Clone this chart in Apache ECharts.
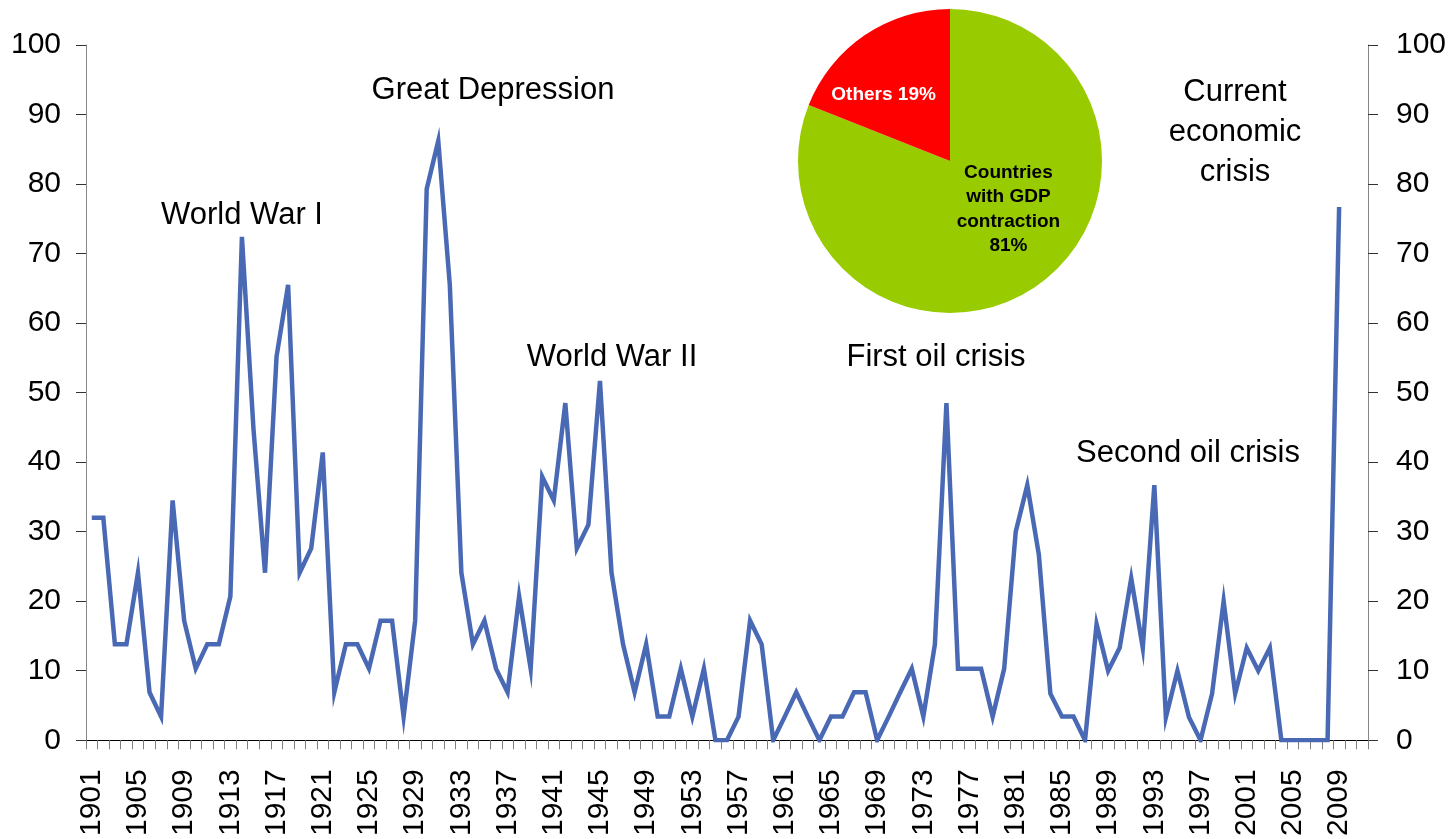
<!DOCTYPE html>
<html>
<head>
<meta charset="utf-8">
<script src="https://cdn.jsdelivr.net/npm/echarts@6/dist/echarts.min.js"></script>
<style>
html,body{margin:0;padding:0;background:#fff;}
#chart{width:1452px;height:839px;}
</style>
</head>
<body>
<div id="chart"></div>
<script>
// Years 1901-2011 on the category axis (2010, 2011 empty)
const years = [];
for (let y = 1901; y <= 2011; y++) years.push(String(y));

// Share of countries with GDP contraction (%), 1901-2009
const shareValues = [
  32.0, 32.0, 13.8, 13.8, 24.1, 6.9, 3.4, 34.5, 17.2, 10.3,      // 1901-1910
  13.8, 13.8, 20.7, 72.4, 44.8, 24.1, 55.2, 65.5, 24.1, 27.6,    // 1911-1920
  41.4, 6.9, 13.8, 13.8, 10.3, 17.2, 17.2, 3.4, 17.2, 79.3,      // 1921-1930
  86.2, 65.5, 24.1, 13.8, 17.2, 10.3, 6.9, 20.7, 10.3, 37.9,     // 1931-1940
  34.5, 48.5, 27.6, 31.0, 51.7, 24.1, 13.8, 6.9, 13.8, 3.4,      // 1941-1950
  3.4, 10.3, 3.4, 10.3, 0, 0, 3.4, 17.2, 13.8, 0,                // 1951-1960
  3.4, 6.9, 3.4, 0, 3.4, 3.4, 6.9, 6.9, 0, 3.4,                  // 1961-1970
  6.9, 10.3, 3.4, 13.8, 48.5, 10.3, 10.3, 10.3, 3.4, 10.3,       // 1971-1980
  30.0, 36.7, 26.7, 6.7, 3.4, 3.4, 0, 16.7, 10.0, 13.3,          // 1981-1990
  23.3, 13.3, 36.7, 3.3, 10.0, 3.3, 0, 6.7, 20.0, 6.7,           // 1991-2000
  13.3, 10.0, 13.3, 0, 0, 0, 0, 0, 76.7                          // 2001-2009
];

// Pie: share of countries in the current crisis
const pieNames = ['Countries\nwith GDP\ncontraction', 'Others'];
const pieValues = [81, 19];
const pieColors = ['#99CC00', '#FF0000'];

// Annotations
const annoTexts = ['World War I', 'Great Depression', 'World War II', 'First oil crisis', 'Second oil crisis', 'Current\neconomic\ncrisis'];
const annoPos = [[242, 215], [493, 90], [612, 357], [936, 357], [1188, 453], [1235, 132]];

const FONT = '"Liberation Sans", Arial, sans-serif';

const chart = echarts.init(document.getElementById('chart'), null, {renderer: 'canvas'});

const yAxisCommon = {
  type: 'value', min: 0, max: 100, interval: 10,
  splitLine: {show: false},
  axisLine: {show: true, lineStyle: {color: '#868686', width: 1}},
  axisTick: {show: true, length: 10, lineStyle: {color: '#333', width: 1}},
  axisLabel: {color: '#000', fontSize: 30, fontFamily: FONT}
};

chart.setOption({
  animation: false,
  backgroundColor: '#fff',
  grid: {left: 86, right: 84, top: 45, bottom: 98, containLabel: false},
  xAxis: {
    type: 'category',
    data: years,
    boundaryGap: true,
    axisLine: {show: true, lineStyle: {color: '#000', width: 1}},
    axisTick: {show: true, interval: 0, length: 9, lineStyle: {color: '#808080', width: 1}},
    axisLabel: {
      interval: 3, rotate: 90, margin: 29,
      color: '#000', fontSize: 30, fontFamily: FONT
    },
    splitLine: {show: false}
  },
  yAxis: [
    Object.assign({}, yAxisCommon, {position: 'left', axisLabel: Object.assign({}, yAxisCommon.axisLabel, {margin: 25})}),
    Object.assign({}, yAxisCommon, {position: 'right', axisLabel: Object.assign({}, yAxisCommon.axisLabel, {margin: 28})})
  ],
  series: [
    {
      type: 'line',
      data: shareValues,
      xAxisIndex: 0, yAxisIndex: 0,
      showSymbol: false,
      symbol: 'none',
      lineStyle: {color: '#4A69B5', width: 4.5, join: 'miter'},
      z: 3
    },
    {
      type: 'pie',
      center: [950, 161],
      radius: 152,
      startAngle: 90,
      clockwise: true,
      silent: true,
      data: pieNames.map((n, i) => ({
        name: n, value: pieValues[i],
        itemStyle: {color: pieColors[i]},
        label: i === 0
          ? {color: '#000', formatter: '{b}\n{c}%'}
          : {color: '#fff', formatter: '{b} {c}%'}
      })),
      label: {
        show: true, position: 'inside',
        fontSize: 19, fontWeight: 'bold', fontFamily: FONT,
        lineHeight: 24.5, align: 'center'
      },
      labelLine: {show: false},
      labelLayout: function (p) {
        if (p.dataIndex === 0) return {dx: 14, dy: -17};
        return {dx: -22, dy: -1};
      },
      itemStyle: {borderWidth: 0},
      z: 4
    }
  ],
  graphic: annoTexts.map((t, i) => ({
    type: 'text',
    x: annoPos[i][0], y: annoPos[i][1],
    z: 10,
    style: {
      text: t,
      fill: '#000',
      font: '31px ' + FONT,
      textAlign: 'center',
      textVerticalAlign: 'middle',
      lineHeight: 40
    }
  }))
});
</script>
</body>
</html>
